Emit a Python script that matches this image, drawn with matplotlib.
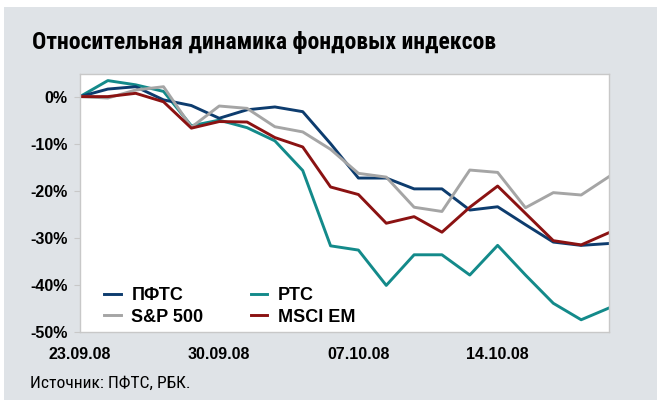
import matplotlib
matplotlib.use("Agg")
import matplotlib.pyplot as plt
from matplotlib.patches import Rectangle

dates = ["23.09.08", "24.09.08", "25.09.08", "26.09.08", "29.09.08", "30.09.08",
         "01.10.08", "02.10.08", "03.10.08", "06.10.08", "07.10.08", "08.10.08",
         "09.10.08", "10.10.08", "13.10.08", "14.10.08", "15.10.08", "16.10.08",
         "17.10.08", "20.10.08"]
tick_labels = ["23.09.08", "30.09.08", "07.10.08", "14.10.08"]
pfts = [0, 1.6, 2.1, -0.7, -1.9, -4.6, -2.8, -2.2, -3.2, -10.0, -17.3, -17.3,
        -19.6, -19.6, -24.1, -23.4, -27.2, -30.9, -31.6, -31.2]
rts = [0, 3.4, 2.5, 1.1, -6.2, -5.0, -6.6, -9.4, -15.7, -31.7, -32.6, -40.1,
       -33.6, -33.6, -37.9, -31.6, -37.9, -43.9, -47.4, -44.9]
sp500 = [0, -0.3, 1.4, 2.1, -6.5, -2.0, -2.5, -6.4, -7.5, -11.2, -16.3, -17.1,
         -23.5, -24.4, -15.6, -16.1, -23.6, -20.4, -20.9, -17.0]
msci = [0, 0, 0.7, -1.1, -6.7, -5.3, -5.4, -8.7, -10.7, -19.2, -20.8, -26.9,
        -25.5, -28.8, -23.5, -19.0, -24.8, -30.6, -31.5, -28.9]

narrow = ['Roboto Condensed', 'PT Sans Narrow', 'DejaVu Sans']

W, H = 657, 400
fig = plt.figure(figsize=(W/100, H/100), dpi=100)
fig.patch.set_facecolor('white')
fig.add_artist(Rectangle((4/W, 0), 1 - 4/W, 1 - 7/H, transform=fig.transFigure,
                         facecolor='#dfe3e7', edgecolor='none', zorder=0))

ax = fig.add_axes([80/W, (H-332)/H, 529/W, 258/H])
ax.set_facecolor('white')
x = list(range(len(dates)))
lw = 2.1
l_rts, = ax.plot(x, rts, color='#138a8a', lw=lw, label='РТС')
l_pfts, = ax.plot(x, pfts, color='#0d3c6e', lw=lw, label='ПФТС')
l_sp, = ax.plot(x, sp500, color='#a5a5a5', lw=lw, label='S&P 500')
l_msci, = ax.plot(x, msci, color='#8b1212', lw=lw, label='MSCI EM')

ax.set_xlim(0, len(dates) - 1)
ax.set_ylim(-50, 4.8)
ax.set_yticks([0, -10, -20, -30, -40, -50])
ax.set_yticklabels(['0%', '-10%', '-20%', '-30%', '-40%', '-50%'])
ax.set_xticks([dates.index(t) for t in tick_labels])
ax.set_xticklabels(tick_labels)
for s in ax.spines.values():
    s.set_color('#c8c8c8')
    s.set_linewidth(1.0)
ax.tick_params(axis='y', length=4, width=0.8, color='#c8c8c8', pad=5,
               labelsize=11.5)
ax.tick_params(axis='x', length=0, pad=11, labelsize=11.5)
for lab in ax.get_xticklabels() + ax.get_yticklabels():
    lab.set_fontfamily('Liberation Sans')
    lab.set_fontweight('bold')

leg = ax.legend([l_pfts, l_sp, l_rts, l_msci], ['ПФТС', 'S&P 500', 'РТС', 'MSCI EM'],
                ncol=2, loc='lower left', bbox_to_anchor=(0.029, -0.011),
                frameon=False, handlelength=0.9, handletextpad=0.6,
                columnspacing=2.6, labelspacing=0.25, borderpad=0,
                prop={'family': 'Liberation Sans', 'weight': 'bold', 'size': 13})

fig.text(32/W, 1 - 43/H, 'Относительная динамика фондовых индексов',
         family=narrow, weight='bold', fontsize=17, va='center', ha='left')
fig.text(30/W, 1 - 383/H, 'Источник: ПФТС, РБК.', family=narrow,
         fontsize=12.6, va='center', ha='left')

fig.savefig('out.png', dpi=100, facecolor=fig.get_facecolor())
